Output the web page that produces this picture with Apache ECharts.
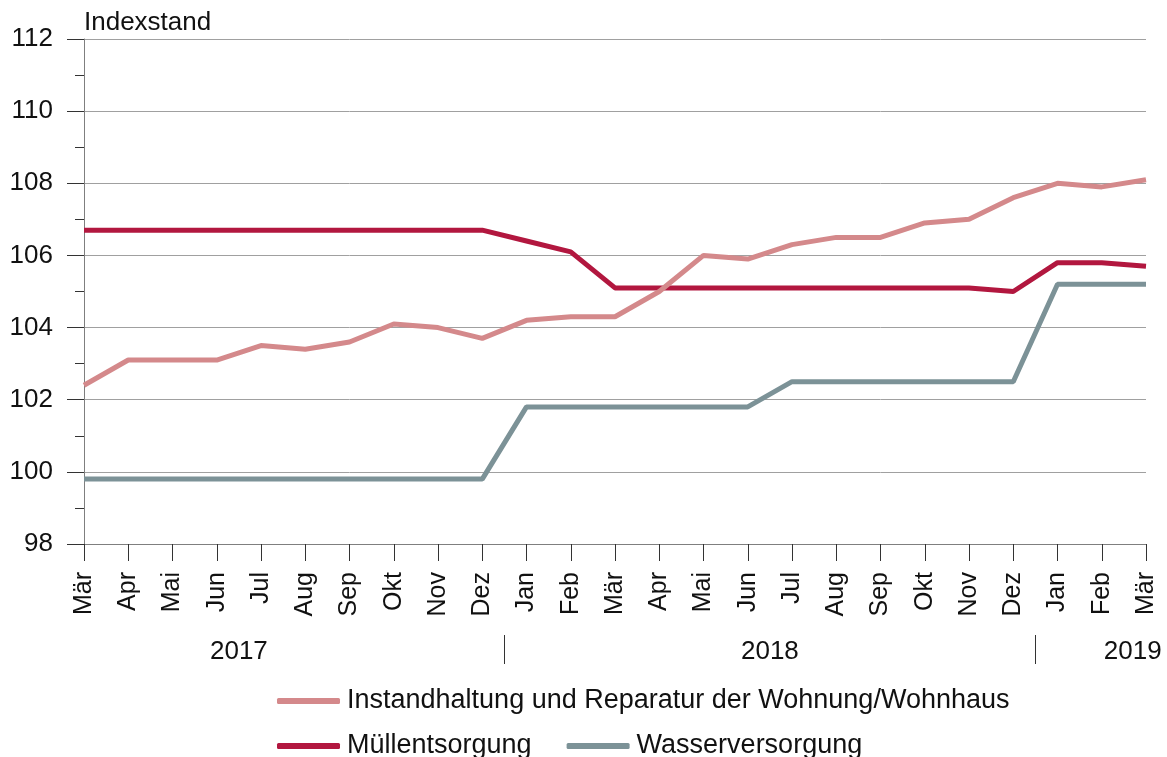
<!DOCTYPE html>
<html>
<head>
<meta charset="utf-8">
<script src="https://cdn.jsdelivr.net/npm/echarts@6/dist/echarts.min.js"></script>
<style>
  html, body { margin: 0; padding: 0; background: #fff; }
  #chart { width: 1167px; height: 757px; }
</style>
</head>
<body>
<div id="chart"></div>
<script>
// Monate Mär 2017 bis Mär 2019
const months = [
  'Mär', 'Apr', 'Mai', 'Jun', 'Jul', 'Aug', 'Sep', 'Okt', 'Nov', 'Dez',
  'Jan', 'Feb', 'Mär', 'Apr', 'Mai', 'Jun', 'Jul', 'Aug', 'Sep', 'Okt', 'Nov', 'Dez',
  'Jan', 'Feb', 'Mär'
]
// Jahresbeschriftung (Position in Kategorie-Index) und Trennstriche
const years = ['2017', '2018', '2019']
const yearPos = [3.5, 15.5, 23.7]
const yearSeparators = [9.5, 21.5]

const instandhaltung = [
  102.4, 103.1, 103.1, 103.1, 103.5, 103.4, 103.6, 104.1, 104.0, 103.7,
  104.2, 104.3, 104.3, 105.0, 106.0, 105.9, 106.3, 106.5, 106.5, 106.9, 107.0, 107.6,
  108.0, 107.9, 108.1
]
const muell = [
  106.7, 106.7, 106.7, 106.7, 106.7, 106.7, 106.7, 106.7, 106.7, 106.7,
  106.4, 106.1, 105.1, 105.1, 105.1, 105.1, 105.1, 105.1, 105.1, 105.1, 105.1, 105.0,
  105.8, 105.8, 105.7
]
const wasser = [
  99.8, 99.8, 99.8, 99.8, 99.8, 99.8, 99.8, 99.8, 99.8, 99.8,
  101.8, 101.8, 101.8, 101.8, 101.8, 101.8, 102.5, 102.5, 102.5, 102.5, 102.5, 102.5,
  105.2, 105.2, 105.2
]

const names = [
  'Instandhaltung und Reparatur der Wohnung/Wohnhaus',
  'Müllentsorgung',
  'Wasserversorgung'
]
const colors = ['#d4898b', '#b2173f', '#7c9297']

const font = 'Liberation Sans, Arial, sans-serif'
const textColor = '#111'

const myChart = echarts.init(document.getElementById('chart'))

const legendBase = {
  orient: 'horizontal',
  left: 277,
  icon: 'roundRect',
  itemWidth: 63,
  itemHeight: 6,
  itemGap: 35,
  padding: 0,
  textStyle: { fontFamily: font, fontSize: 27, color: textColor, lineHeight: 28, padding: [0, 0, 0, 2] }
}

myChart.setOption({
  animation: false,
  textStyle: { fontFamily: font },
  grid: {
    left: 84,
    right: 21,
    top: 39,
    bottom: 213,
    containLabel: false,
    outerBoundsMode: 'none'
  },
  legend: [
    { ...legendBase, top: 687, data: [names[0]] },
    { ...legendBase, top: 732, data: [names[1], names[2]] }
  ],
  xAxis: {
    type: 'category',
    data: months,
    boundaryGap: false,
    axisLine: { show: true, lineStyle: { color: '#7f7f7f', width: 1 } },
    axisTick: { show: true, interval: 0, length: 17, lineStyle: { color: '#333', width: 1 } },
    axisLabel: {
      interval: 0,
      rotate: 90,
      margin: 28,
      fontFamily: font,
      fontSize: 25,
      color: textColor
    },
    splitLine: { show: false }
  },
  yAxis: {
    type: 'value',
    min: 98,
    max: 112,
    interval: 2,
    name: 'Indexstand',
    nameLocation: 'end',
    nameGap: 16,
    nameTextStyle: {
      fontFamily: font,
      fontSize: 26,
      color: textColor,
      align: 'left',
      verticalAlign: 'middle'
    },
    axisLine: { show: true, lineStyle: { color: '#7f7f7f', width: 1 } },
    axisTick: { show: true, length: 17, lineStyle: { color: '#333', width: 1 } },
    minorTick: { show: true, splitNumber: 2, length: 9, lineStyle: { color: '#333', width: 1 } },
    axisLabel: { margin: 31, fontFamily: font, fontSize: 26, color: textColor },
    splitLine: { show: true, lineStyle: { color: '#a0a0a0', width: 1 } }
  },
  series: [
    { name: names[0], type: 'line', data: instandhaltung, z: 4 },
    { name: names[1], type: 'line', data: muell, z: 3 },
    { name: names[2], type: 'line', data: wasser, z: 2 }
  ].map((s, i) => ({
    ...s,
    symbol: 'none',
    smooth: false,
    color: colors[i],
    lineStyle: { color: colors[i], width: 5 }
  }))
})

// Jahreszeile unter den Monaten
const p0 = myChart.convertToPixel({ xAxisIndex: 0 }, 0)
const p1 = myChart.convertToPixel({ xAxisIndex: 0 }, 1)
const step = p1 - p0
const graphics = []
years.forEach((y, i) => {
  graphics.push({
    type: 'text',
    x: p0 + yearPos[i] * step,
    y: 652,
    style: {
      text: y,
      fontFamily: font,
      fontSize: 26,
      fill: textColor,
      align: 'center',
      verticalAlign: 'middle'
    }
  })
})
yearSeparators.forEach((s) => {
  const x = Math.round(p0 + s * step) + 0.5
  graphics.push({
    type: 'line',
    shape: { x1: x, y1: 635, x2: x, y2: 664 },
    style: { stroke: '#333', lineWidth: 1 }
  })
})
myChart.setOption({ graphic: graphics })

window.addEventListener('resize', function () {
  myChart.resize()
})
</script>
</body>
</html>
